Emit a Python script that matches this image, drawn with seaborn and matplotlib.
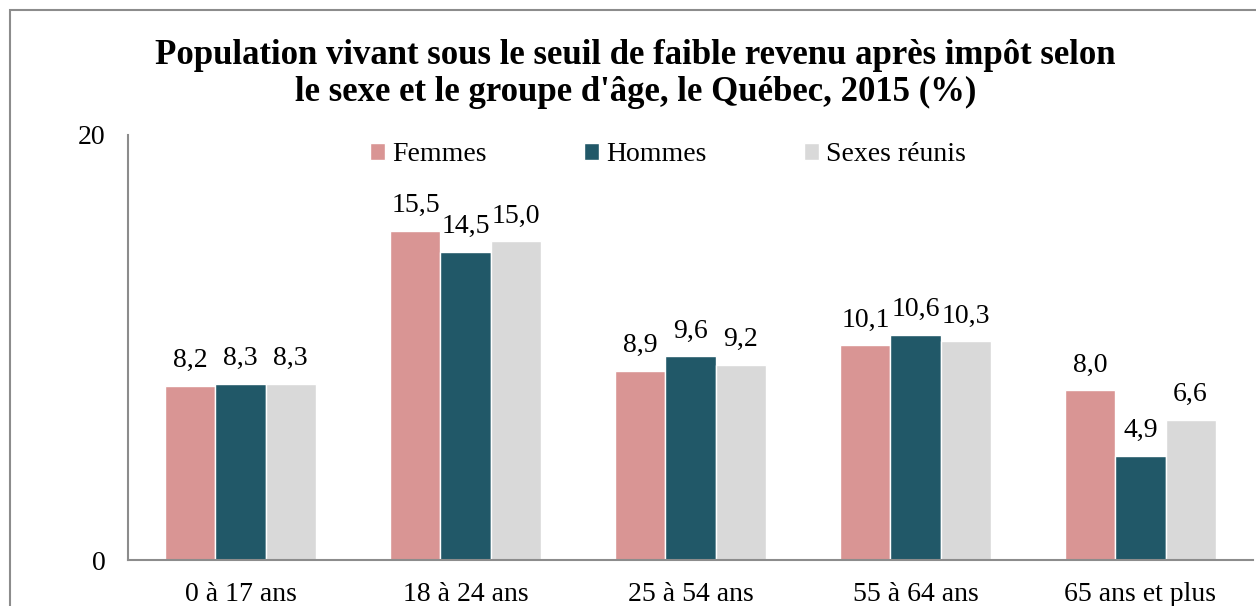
import pandas as pd
import matplotlib.pyplot as plt
import seaborn as sns
from matplotlib.patches import Rectangle

groupes = ['0 à 17 ans', '18 à 24 ans', '25 à 54 ans', '55 à 64 ans', '65 ans et plus']
femmes = [8.2, 15.5, 8.9, 10.1, 8.0]
hommes = [8.3, 14.5, 9.6, 10.6, 4.9]
reunis = [8.3, 15.0, 9.2, 10.3, 6.6]
series = ['Femmes', 'Hommes', 'Sexes réunis']
couleurs = ['#D99594', '#215868', '#D9D9D9']

df = pd.DataFrame({
    'Groupe': groupes * 3,
    'Serie': [s for s in series for _ in groupes],
    'Valeur': femmes + hommes + reunis,
})

sns.set_style('white')
plt.rcParams['font.family'] = ['Liberation Serif', 'DejaVu Serif']
plt.rcParams['text.color'] = 'black'
plt.rcParams['xtick.color'] = 'black'
plt.rcParams['ytick.color'] = 'black'

fig = plt.figure(figsize=(12.56, 6.06), dpi=100)
ax = fig.add_axes([128 / 1256, 46 / 606, 1125 / 1256, 425 / 606])

sns.barplot(data=df, x='Groupe', y='Valeur', hue='Serie', palette=couleurs,
            width=0.667, saturation=1, ax=ax, errorbar=None)

# etiquettes avec virgule decimale
for cont in ax.containers:
    ax.bar_label(cont, labels=[f"{v:.1f}".replace('.', ',') for v in cont.datavalues],
                 padding=9, fontsize=20, color='black')

ax.set_ylim(0, 20)
ax.set_xlim(-0.5, 4.5)
ax.set_yticks([0, 20])
ax.tick_params(axis='y', labelsize=20, pad=16, length=0)
ax.tick_params(axis='x', labelsize=20, pad=16, length=0)
ax.set_xlabel('')
ax.set_ylabel('')
for s in ['top', 'right']:
    ax.spines[s].set_visible(False)
for s in ['left', 'bottom']:
    ax.spines[s].set_color('#8c8c8c')
    ax.spines[s].set_linewidth(1.5)

ax.legend(loc='center', bbox_to_anchor=(0.48, 0.953), ncol=3, frameon=False,
          fontsize=20, handlelength=0.54, handleheight=0.54, handletextpad=0.25,
          columnspacing=3.5, borderpad=0)

fig.text(0.506, 1 - 39 / 606, "Population vivant sous le seuil de faible revenu après impôt selon\n"
         "le sexe et le groupe d'âge, le Québec, 2015 (%)",
         ha='center', va='top', fontsize=25, fontweight='bold', linespacing=1.15,
         color='black')

fig.patches.append(Rectangle((10 / 1256, -0.1), 1.2, (596 / 606) + 0.1,
                             transform=fig.transFigure, fill=False,
                             edgecolor='#8c8c8c', linewidth=1.5))

fig.savefig('out.png', dpi=100)
